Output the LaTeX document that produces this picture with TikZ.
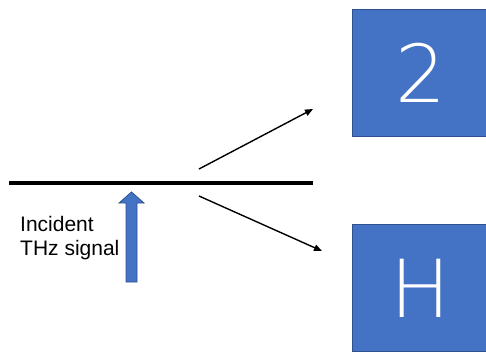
\documentclass[tikz,border=0pt]{standalone}
\usepackage{fontspec}
\setmainfont{Liberation Sans}
\newfontfamily\thinfont{DejaVu Sans ExtraLight}
\usetikzlibrary{arrows.meta}
\definecolor{boxblue}{HTML}{4472C4}
\definecolor{boxedge}{HTML}{2F528F}
\tikzset{
  bigbox/.style={draw=boxedge, line width=0.8pt, fill=boxblue, text=white,
    minimum width=138pt, minimum height=127pt, inner sep=0pt,
    font=\thinfont\fontsize{80}{80}\selectfont},
  ray/.style={line width=1.4pt, -{Triangle[length=8pt,width=6.5pt]}},
  mirror/.style={line width=4pt},
  blockarrow/.style={draw=boxedge, line width=0.8pt, fill=boxblue},
  label/.style={align=left, inner sep=0pt, font=\fontsize{21}{24}\selectfont}
}
\begin{document}
\begin{tikzpicture}[x=1pt,y=-1pt]
\useasboundingbox (0,0) rectangle (486,351);
\node[bigbox] (two) at (421,72.5) {2};
\node[bigbox] (h) at (421,288) {H};
\coordinate (m1) at (9,183);
\coordinate (m2) at (313,183);
\draw[mirror] (m1) -- (m2);
\coordinate (u1) at (199,169);
\coordinate (u2) at (313,109);
\coordinate (d1) at (199,196);
\coordinate (d2) at (322,251);
\draw[ray] (u1) -- (u2);
\draw[ray] (d1) -- (d2);
\draw[blockarrow] (126,282) -- (126,203) -- (119,203) -- (131.5,192) -- (144,203) -- (137,203) -- (137,282) -- cycle;
\node[label, anchor=base west] (sig) at (20,255) {Incident\\THz signal};
\end{tikzpicture}
\end{document}
